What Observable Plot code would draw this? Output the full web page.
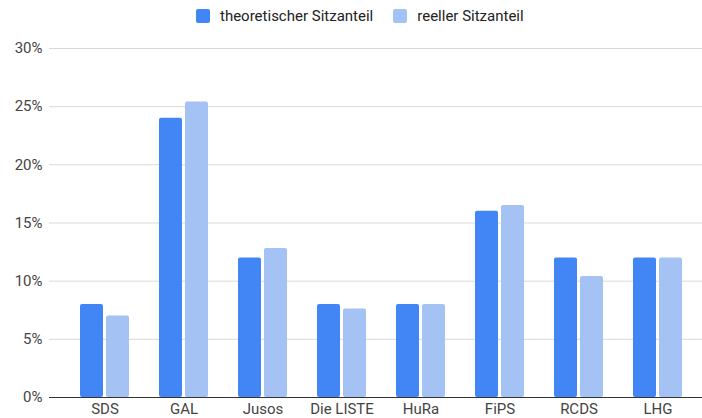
<!DOCTYPE html>
<html>
<head>
<meta charset="utf-8">
<script src="https://cdn.jsdelivr.net/npm/d3@7"></script>
<script src="https://cdn.jsdelivr.net/npm/@observablehq/plot@0.6"></script>
<style>
  html, body { margin: 0; padding: 0; background: #fff; }
  body { width: 702px; height: 418px; overflow: hidden; font-family: Roboto, "Liberation Sans", sans-serif; }
  #legend { height: 30px; display: flex; align-items: center; padding-left: 196px; padding-top: 2px; box-sizing: border-box; }
  .item { display: flex; align-items: center; font-size: 15px; color: #222; margin-right: 20px; }
  .sw { width: 14px; height: 14px; border-radius: 2px; margin-right: 10px; }
  #chart svg { display: block; }
</style>
</head>
<body>
<div id="legend"></div>
<div id="chart"></div>
<script>
const categories = ["SDS", "GAL", "Jusos", "Die LISTE", "HuRa", "FiPS", "RCDS", "LHG"];
const seriesNames = ["theoretischer Sitzanteil", "reeller Sitzanteil"];
const theoretisch = [8, 24, 12, 8, 8, 16, 12, 12];
const reell = [7, 25.4, 12.8, 7.6, 8, 16.5, 10.4, 12];
const yTicks = [0, 5, 10, 15, 20, 25, 30];
const colors = ["#4285f4", "#a4c2f4"];

const theoData = categories.map((c, i) => ({cat: c, series: seriesNames[0], value: theoretisch[i]}));
const reelData = categories.map((c, i) => ({cat: c, series: seriesNames[1], value: reell[i]}));

// legend
const legend = document.getElementById("legend");
seriesNames.forEach((s, i) => {
  const it = document.createElement("div");
  it.className = "item";
  const sw = document.createElement("div");
  sw.className = "sw";
  sw.style.background = colors[i];
  const tx = document.createElement("span");
  tx.textContent = s;
  it.appendChild(sw); it.appendChild(tx);
  legend.appendChild(it);
});

const chart = Plot.plot({
  width: 702,
  height: 388,
  marginLeft: 49,
  marginRight: 0,
  marginTop: 18,
  marginBottom: 21,
  style: {fontFamily: "Roboto, 'Liberation Sans', sans-serif", fontSize: "15px", color: "#444", background: "#fff"},
  x: {domain: categories, range: [79, 682], paddingInner: 0.38, paddingOuter: 0, label: null, tickSize: 0, tickPadding: 6},
  y: {domain: [0, 30], ticks: yTicks, tickFormat: d => d + "%", label: null, tickSize: 0, tickPadding: 7},
  color: {domain: seriesNames, range: colors},
  marks: [
    Plot.ruleY(yTicks.filter(d => d > 0), {stroke: "#d9d9d9", strokeWidth: 1}),
    Plot.barY(theoData, {x: "cat", y: "value", fill: "series", insetRight: 26, rx: 2}),
    Plot.barY(reelData, {x: "cat", y: "value", fill: "series", insetLeft: 26, rx: 2}),
    Plot.ruleY([0], {stroke: "#333", strokeWidth: 1})
  ]
});
document.getElementById("chart").appendChild(chart);
</script>
</body>
</html>
